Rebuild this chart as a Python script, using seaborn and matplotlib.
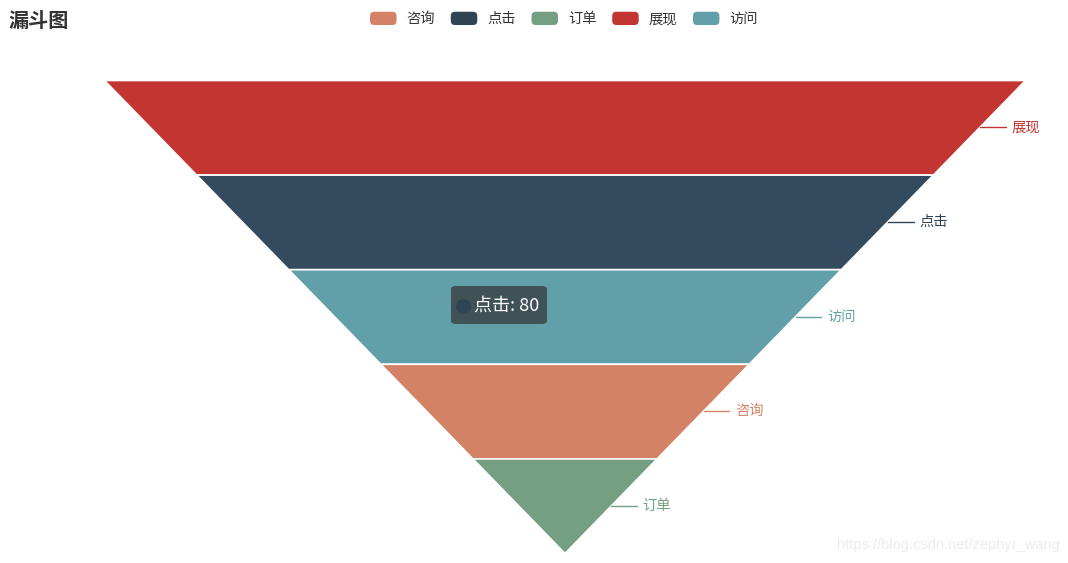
import matplotlib
matplotlib.use("Agg")
import matplotlib.pyplot as plt
import matplotlib.patches as mpatches
from matplotlib.lines import Line2D
from matplotlib.legend_handler import HandlerPatch
import seaborn as sns

# data, in legend order
stages = ["咨询", "点击", "订单", "展现", "访问"]
values = [40, 80, 20, 100, 60]
colors = ["#d48265", "#2f4554", "#749f82", "#c23531", "#61a0a8"]
tooltip_name = "点击"
tooltip_value = 80


class RoundHandler(HandlerPatch):
    # rounded legend icons like echarts
    def create_artists(self, legend, orig_handle, xdescent, ydescent,
                       width, height, fontsize, trans):
        p = mpatches.FancyBboxPatch((-xdescent, -ydescent), width, height,
                                    boxstyle="round,pad=0,rounding_size=3",
                                    facecolor=orig_handle.get_facecolor(),
                                    edgecolor="none", transform=trans)
        return [p]


def main():
    sns.set_theme(style="white")
    plt.rcParams["font.family"] = ["Noto Sans CJK SC", "DejaVu Sans"]

    W, H = 1068, 563
    fig = plt.figure(figsize=(W / 100, H / 100), dpi=100)

    # funnel area: x 104..1025 px, y 80..553 px
    ax = fig.add_axes([104 / W, (H - 553) / H, 921 / W, 473 / H])
    ax.set_xlim(-50, 50)
    ax.set_ylim(len(values), 0)
    ax.axis("off")

    order = sorted(range(len(values)), key=lambda i: -values[i])
    vmax = max(values)
    for k, i in enumerate(order):
        top = values[i] / vmax * 100
        bot = values[order[k + 1]] / vmax * 100 if k + 1 < len(order) else 0
        col = colors[i]
        if stages[i] == tooltip_name:
            col = "#344b5f"
        ax.fill_betweenx([k, k + 1], [-top / 2, -bot / 2], [top / 2, bot / 2],
                         color=col, edgecolor="white", linewidth=1.2)
        # label on the right
        mid = (top + bot) / 4
        ax.plot([mid + 0.1, mid + 2.9], [k + 0.5, k + 0.5], color=colors[i], lw=1)
        ax.text(mid + 3.5, k + 0.5, stages[i], color=colors[i], fontsize=10.3,
                va="center", ha="left")

    # tooltip
    fig.patches.append(mpatches.FancyBboxPatch(
        (451 / W, (H - 324) / H), 96 / W, 38 / H,
        boxstyle="round,pad=0,rounding_size=0.005", transform=fig.transFigure,
        facecolor="#323232", alpha=0.7, edgecolor="none"))
    fig.lines.append(Line2D([463 / W], [(H - 306) / H], marker="o", ms=10,
                            color="#2f4554", transform=fig.transFigure))
    fig.text(474 / W, (H - 306) / H, f"{tooltip_name}: {tooltip_value}",
             color="white", fontsize=13, va="center", ha="left")

    # title
    fig.text(8 / W, (H - 20) / H, "漏斗图", fontsize=14.5, fontweight="bold",
             color="#333333", va="center", ha="left")

    # legend
    handles = [mpatches.Patch(facecolor=c, edgecolor="none") for c in colors]
    fig.legend(handles, stages, loc="center", bbox_to_anchor=(564 / W, (H - 19) / H),
               ncol=5, frameon=False, fontsize=10.3, handlelength=1.85,
               handleheight=1.05, handletextpad=0.7, columnspacing=1.1,
               labelcolor="#333333", handler_map={mpatches.Patch: RoundHandler()})

    # watermark
    fig.text(1060 / W, (H - 545) / H, "https://blog.csdn.net/zephyr_wang",
             color="#ececec", fontsize=10.5, ha="right", va="center",
             family=["Liberation Sans", "DejaVu Sans"])

    fig.savefig("out.png", dpi=100)
    plt.close(fig)


if __name__ == "__main__":
    main()
